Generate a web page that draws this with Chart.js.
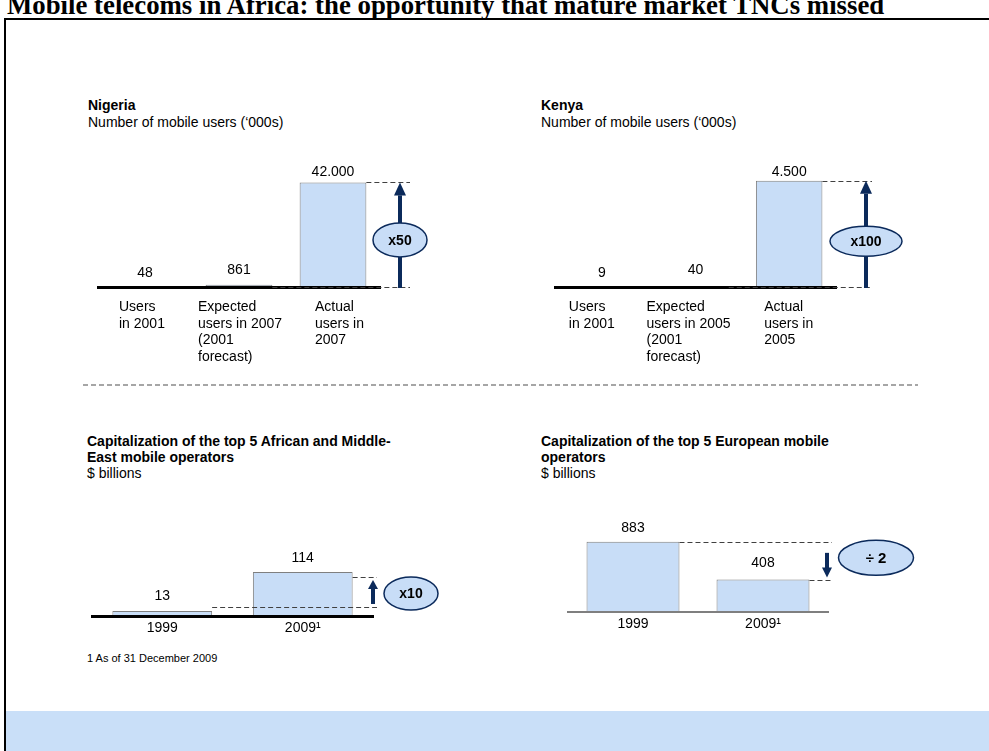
<!DOCTYPE html>
<html>
<head>
<meta charset="utf-8">
<title>Mobile telecoms in Africa</title>
<script src="https://cdn.jsdelivr.net/npm/chart.js@4.4.1/dist/chart.umd.min.js"></script>
<style>
  body { margin: 0; width: 989px; height: 751px; overflow: hidden; background: #fff; position: relative;
         font-family: "Liberation Sans", Arial, sans-serif; color: #000; }
  .frame { position: absolute; left: 4px; top: 18px; width: 1000px; height: 800px;
           border-left: 2px solid #000; border-top: 2px solid #000; }
  .pageTitle { position: absolute; left: 7px; top: -8px; white-space: nowrap;
               font: bold 26.8px/26px "Liberation Serif", "Times New Roman", serif; }
  .band { position: absolute; left: 6px; top: 711px; width: 990px; height: 40px; background: #c9dff8; }
  .sep { position: absolute; left: 83px; top: 384px; width: 835px; height: 2px;
         background: repeating-linear-gradient(90deg, #a6a6a6 0 5px, transparent 5px 8px); }
  .head { position: absolute; font-size: 14px; line-height: 17px; white-space: nowrap; }
  .head.low { line-height: 16px; }
  .head b { display: block; }
  .note { position: absolute; left: 87px; top: 652px; font-size: 11px; }
  canvas { position: absolute; }
</style>
</head>
<body>
<div class="pageTitle">Mobile telecoms in Africa: the opportunity that mature market TNCs missed</div>
<div class="frame"></div>

<div class="head" style="left:88px;top:97px"><b>Nigeria</b>Number of mobile users (‘000s)</div>
<div class="head" style="left:541px;top:97px"><b>Kenya</b>Number of mobile users (‘000s)</div>
<canvas id="nigeriaChart" width="350" height="220" style="left:90px;top:150px"></canvas>
<canvas id="kenyaChart" width="365" height="220" style="left:545px;top:150px"></canvas>

<div class="sep"></div>

<div class="head low" style="left:87px;top:433px"><b>Capitalization of the top 5 African and Middle-<br>East mobile operators</b>$ billions</div>
<div class="head low" style="left:541px;top:433px"><b>Capitalization of the top 5 European mobile<br>operators</b>$ billions</div>
<canvas id="africaChart" width="360" height="110" style="left:85px;top:540px"></canvas>
<canvas id="europeChart" width="380" height="150" style="left:560px;top:500px"></canvas>

<div class="note">1 As of 31 December 2009</div>
<div class="band"></div>

<script>
// mobile users ('000s)
const nigeriaLabels = [['Users', 'in 2001'], ['Expected', 'users in 2007', '(2001', 'forecast)'], ['Actual', 'users in', '2007']];
const nigeriaUsers = [48, 861, 42000];
const kenyaLabels = [['Users', 'in 2001'], ['Expected', 'users in 2005', '(2001', 'forecast)'], ['Actual', 'users in', '2005']];
const kenyaUsers = [9, 40, 4500];

// capitalization, $ billions
const capYears = ['1999', '2009¹'];
const africaCap = [13, 114];
const europeCap = [883, 408];

// top of each value axis
const nigeriaAxisMax = 55000;
const kenyaAxisMax = 5800;
const africaAxisMax = 197;
const europeAxisMax = 1410;

const FONT = '"Liberation Sans", Arial, sans-serif';
const NAVY = '#0b2a5b';
const BAR_FILL = '#c8ddf7';

function fmt(v) {
    return String(v).replace(/\B(?=(\d{3})+(?!\d))/g, '.');
}

// numbers above the bars
const valueLabels = {
    id: 'valueLabels',
    afterDatasetsDraw(chart, args, opts) {
        const ctx = chart.ctx;
        const values = chart.data.datasets[0].data;
        ctx.save();
        ctx.font = '14px ' + FONT;
        ctx.fillStyle = '#000';
        ctx.textAlign = 'center';
        ctx.textBaseline = 'alphabetic';
        chart.getDatasetMeta(0).data.forEach((bar, i) => {
            ctx.fillText(fmt(values[i]), bar.x, bar.y - opts.gaps[i]);
        });
        ctx.restore();
    }
};

// left aligned multi line category labels (top charts)
const stackedLabels = {
    id: 'stackedLabels',
    afterDraw(chart, args, opts) {
        if (!opts.offsets) return;
        const ctx = chart.ctx;
        const x = chart.scales.x;
        ctx.save();
        ctx.font = '14px ' + FONT;
        ctx.fillStyle = '#000';
        ctx.textAlign = 'left';
        ctx.textBaseline = 'middle';
        chart.data.labels.forEach((lines, i) => {
            const px = x.getPixelForValue(i) + opts.offsets[i];
            lines.forEach((line, j) => {
                ctx.fillText(line, px, chart.chartArea.bottom + opts.top + j * opts.lineHeight);
            });
        });
        ctx.restore();
    }
};

function dashed(ctx, x1, x2, y) {
    const yy = Math.round(y) + 0.5;
    ctx.save();
    ctx.strokeStyle = '#404040';
    ctx.lineWidth = 1;
    ctx.setLineDash([5, 3]);
    ctx.beginPath();
    ctx.moveTo(x1, yy);
    ctx.lineTo(x2, yy);
    ctx.stroke();
    ctx.restore();
}

// vertical arrow, tip at yTo
function arrowV(ctx, x, yFrom, yTo, shaft, headW, headH) {
    const dir = yTo > yFrom ? 1 : -1;
    const neck = yTo - dir * headH;
    ctx.save();
    ctx.fillStyle = NAVY;
    ctx.fillRect(x - shaft / 2, Math.min(yFrom, neck), shaft, Math.abs(neck - yFrom) + 1);
    ctx.beginPath();
    ctx.moveTo(x - headW, neck);
    ctx.lineTo(x + headW, neck);
    ctx.lineTo(x, yTo);
    ctx.closePath();
    ctx.fill();
    ctx.restore();
}

function oval(ctx, cx, cy, rx, ry, text, size) {
    ctx.save();
    ctx.beginPath();
    ctx.ellipse(cx, cy, rx, ry, 0, 0, Math.PI * 2);
    ctx.fillStyle = BAR_FILL;
    ctx.fill();
    ctx.strokeStyle = NAVY;
    ctx.lineWidth = 1.5;
    ctx.stroke();
    ctx.fillStyle = '#000';
    ctx.font = 'bold ' + (size || 14) + 'px ' + FONT;
    ctx.textAlign = 'center';
    ctx.textBaseline = 'middle';
    ctx.fillText(text, cx, cy + 1);
    ctx.restore();
}

function rightEdge(bar) {
    return bar.x + bar.width / 2;
}

function growthMarks(label, arrowGap, lineGap, ovalRx, ovalRy, ovalPos) {
    return function (chart) {
        const ctx = chart.ctx;
        const a = chart.chartArea;
        const bars = chart.getDatasetMeta(0).data;
        const top = bars[2].y;
        const base = a.bottom;
        dashed(ctx, rightEdge(bars[2]), a.right + lineGap, top);
        dashed(ctx, rightEdge(bars[1]), a.right + lineGap, base);
        arrowV(ctx, a.right + arrowGap, base, top, 4, 6, 13);
        oval(ctx, a.right + arrowGap, base - (base - top) * ovalPos, ovalRx, ovalRy, label);
    };
}

function africaMarks(chart) {
    const ctx = chart.ctx;
    const a = chart.chartArea;
    const bars = chart.getDatasetMeta(0).data;
    const lo = bars[0].y, hi = bars[1].y;
    dashed(ctx, rightEdge(bars[0]), a.right + 4, lo - 4);
    dashed(ctx, rightEdge(bars[1]), a.right + 4, hi + 5);
    arrowV(ctx, a.right, lo - 8, hi + 8, 4, 5, 9);
    oval(ctx, a.right + 38, (lo + hi) / 2 + 2, 27, 16.5, 'x10');
}

function europeMarks(chart) {
    const ctx = chart.ctx;
    const a = chart.chartArea;
    const bars = chart.getDatasetMeta(0).data;
    const hi = bars[0].y, lo = bars[1].y;
    dashed(ctx, rightEdge(bars[0]), a.right + 4, hi);
    dashed(ctx, rightEdge(bars[1]), a.right + 4, lo);
    arrowV(ctx, a.right - 1, hi + 11, lo - 2, 4, 5, 10);
    oval(ctx, a.right + 48, hi + 16, 37.5, 17.5, '÷ 2', 15);
}

function makeChart(id, labels, values, cfg) {
    return new Chart(document.getElementById(id), {
        type: 'bar',
        data: {
            labels: labels,
            datasets: [{
                data: values,
                backgroundColor: BAR_FILL,
                borderColor: '#7f7f7f',
                borderWidth: 1,
                categoryPercentage: 1,
                barPercentage: cfg.barPct
            }]
        },
        options: {
            responsive: false,
            animation: false,
            devicePixelRatio: 1,
            layout: { padding: cfg.pad },
            plugins: {
                legend: { display: false },
                tooltip: { enabled: false },
                valueLabels: { gaps: cfg.gaps },
                stackedLabels: cfg.stacked || {}
            },
            scales: {
                x: {
                    grid: { display: false, drawTicks: false },
                    border: { color: cfg.axisColor, width: cfg.axisWidth, z: 1 },
                    ticks: { display: !cfg.stacked, color: '#000', padding: 4, font: { size: 14, family: FONT } },
                    afterFit: s => { s.height = cfg.xHeight; }
                },
                y: { display: false, min: 0, max: cfg.max }
            }
        },
        plugins: [valueLabels, stackedLabels, { id: 'marks', afterDraw: cfg.marks }]
    });
}

makeChart('nigeriaChart', nigeriaLabels, nigeriaUsers, {
    barPct: 0.71, max: nigeriaAxisMax, gaps: [10, 11, 6],
    pad: { left: 8, right: 60, top: 0, bottom: 0 }, xHeight: 83,
    axisColor: '#000', axisWidth: 3,
    stacked: { offsets: [-26, -41, -18], top: 20, lineHeight: 16.7 },
    marks: growthMarks('x50', 20, 30, 27, 17, 0.45)
});

makeChart('kenyaChart', kenyaLabels, kenyaUsers, {
    barPct: 0.71, max: kenyaAxisMax, gaps: [10, 12, 5],
    pad: { left: 10, right: 74, top: 0, bottom: 0 }, xHeight: 83,
    axisColor: '#000', axisWidth: 3,
    stacked: { offsets: [-33, -49, -25], top: 20, lineHeight: 16.7 },
    marks: growthMarks('x100', 30, 36, 36, 15, 0.43)
});

makeChart('africaChart', capYears, africaCap, {
    barPct: 0.71, max: africaAxisMax, gaps: [11, 10],
    pad: { left: 7, right: 72, top: 0, bottom: 0 }, xHeight: 34,
    axisColor: '#000', axisWidth: 3,
    marks: africaMarks
});

makeChart('europeChart', capYears, europeCap, {
    barPct: 0.715, max: europeAxisMax, gaps: [10, 13],
    pad: { left: 8, right: 112, top: 0, bottom: 0 }, xHeight: 38,
    axisColor: '#7f7f7f', axisWidth: 2,
    marks: europeMarks
});
</script>
</body>
</html>
